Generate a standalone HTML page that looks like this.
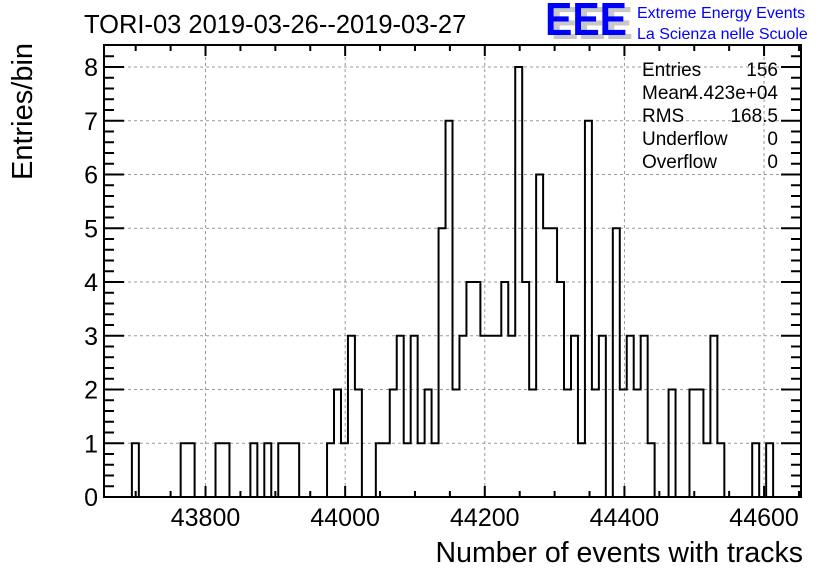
<!DOCTYPE html>
<html><head><meta charset="utf-8"><style>
html,body{margin:0;padding:0;background:#fff;}
svg{display:block;font-family:"Liberation Sans",sans-serif;}
</style></head><body>
<svg id="chart" width="836" height="572" viewBox="0 0 836 572">
<rect x="0" y="0" width="836" height="572" fill="#fff"/>
<g id="grid"></g>
<g id="hist"></g>
<g id="axes"></g>
<text x="84" y="33" font-size="25.5">TORI-03 2019-03-26--2019-03-27</text>
<text x="803" y="562" font-size="28.5" text-anchor="end">Number of events with tracks</text>
<text transform="translate(32,180) rotate(-90)" font-size="29">Entries/bin</text>
<g>
<text x="551" y="39" font-size="46" font-weight="bold" fill="#c8c8c8" textLength="82" lengthAdjust="spacingAndGlyphs">EEE</text>
<text x="545" y="35" font-size="46" font-weight="bold" fill="#0000ff" textLength="82" lengthAdjust="spacingAndGlyphs">EEE</text>
<text x="637" y="18" font-size="16" fill="#0000ff">Extreme Energy Events</text>
<text x="637" y="39" font-size="16" fill="#0000ff">La Scienza nelle Scuole</text>
</g>
<g font-size="19">
<text x="642" y="76">Entries</text><text x="778" y="76" text-anchor="end">156</text>
<text x="642" y="99">Mean</text><text x="778" y="99" text-anchor="end">4.423e+04</text>
<text x="642" y="122">RMS</text><text x="778" y="122" text-anchor="end">168.5</text>
<text x="642" y="145">Underflow</text><text x="778" y="145" text-anchor="end">0</text>
<text x="642" y="168">Overflow</text><text x="778" y="168" text-anchor="end">0</text>
</g>
</svg>
<script>
const counts = [0,0,0,0,1,0,0,0,0,0, 0,1,1,0,0,0,1,1,0,0, 0,1,0,1,0,1,1,1,0,0,
0,0,1,2,1,3,2,0,0,1, 1,2,3,1,3,1,2,1,5,7, 2,3,4,4,3,3,3,4,3,8,
4,2,6,5,5,4,2,3,1,7, 2,3,0,5,2,3,2,3,1,0, 0,2,0,0,2,2,1,3,1,0,
0,0,0,1,0,1,0,0,0,0];
const xTicks = [43800,44000,44200,44400,44600];
const yTicks = [0,1,2,3,4,5,6,7,8];
const xMin = 43654.6, xMax = 44652.9;
const L=104,R=801,T=45,B=497;
const NS="http://www.w3.org/2000/svg";
const X=v=>L+(v-xMin)/(xMax-xMin)*(R-L);
const Y=v=>B-v*53.75;
function mk(tag,attrs,parent){const e=document.createElementNS(NS,tag);for(const k in attrs)e.setAttribute(k,attrs[k]);parent.appendChild(e);return e;}
const grid=document.getElementById('grid'),hist=document.getElementById('hist'),axes=document.getElementById('axes');
xTicks.forEach(v=>{const l=mk('line',{x1:X(v),x2:X(v),y1:T,y2:B,stroke:'#999','stroke-dasharray':'3,3'},grid);

});
yTicks.forEach(v=>{if(v===0)return;const l=mk('line',{x1:L,x2:R,y1:Y(v),y2:Y(v),stroke:'#999','stroke-dasharray':'3,3'},grid);

});
const n=counts.length,bw=(xMax-xMin)/n;
let d='M'+X(xMin)+','+Y(0);
counts.forEach((c,i)=>{d+=' L'+X(xMin+i*bw)+','+Y(c)+' L'+X(xMin+(i+1)*bw)+','+Y(c);});
d+=' L'+X(xMax)+','+Y(0);
const p=mk('path',{d:d,fill:'none',stroke:'#000','stroke-width':2},hist);


const fr=mk('rect',{x:L,y:T,width:R-L,height:B-T,fill:'none',stroke:'#000','stroke-width':2},axes);


for(let v=43650;v<=xMax;v+=50){if(v<xMin)continue;const major=(v%200===0);const len=major?11:6;
mk('line',{x1:X(v),x2:X(v),y1:B,y2:B-len,stroke:'#000','stroke-width':2},axes);
mk('line',{x1:X(v),x2:X(v),y1:T,y2:T+len,stroke:'#000','stroke-width':2},axes);}
xTicks.forEach(v=>{const t=mk('text',{x:X(v),y:B+29,'font-size':25,'text-anchor':'middle'},axes);t.textContent=v;

});
for(let k=0;k<=8.4;k+=0.2){const v=Math.round(k*10)/10;const major=Math.abs(v-Math.round(v))<1e-6;const len=major?20:10;
if(Y(v)<T)continue;
mk('line',{x1:L,x2:L+len,y1:Y(v),y2:Y(v),stroke:'#000','stroke-width':2},axes);
mk('line',{x1:R,x2:R-len,y1:Y(v),y2:Y(v),stroke:'#000','stroke-width':2},axes);}
yTicks.forEach(v=>{const t=mk('text',{x:L-6,y:Y(v)+9,'font-size':25,'text-anchor':'end'},axes);t.textContent=v;

});
</script>
</body></html>
